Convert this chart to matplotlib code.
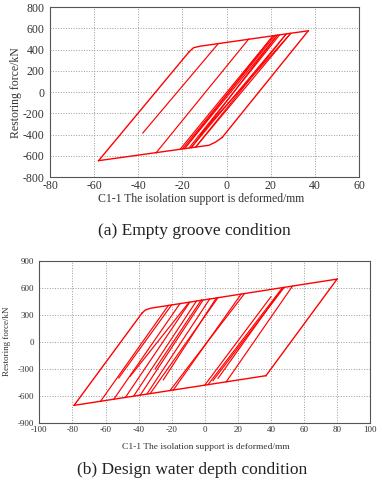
import matplotlib.pyplot as plt

plt.rcParams['font.family'] = ['Liberation Serif', 'DejaVu Serif']
plt.rcParams['axes.unicode_minus'] = False

# (a) empty groove: envelope corners and elastic branches (x in mm, y in kN)
a_upper_x = [-17, -15, -12, 37]
a_upper_y = [380, 418, 433, 578]
a_lower_x = [-58, -8, -5, -2]
a_lower_y = [-645, -500, -470, -426]
a_outer_x = [-58, -17]
a_outer_y = [-645, 380]
a_right_x = [37, -2]
a_right_y = [578, -426]
a_branch_x0 = [-38, 10, -21, 21, -19, 23, -16, 27, -14, 29, -20, -17]
a_branch_y0 = [-385, 500, -536, 530, -530, 537, -521, 548, -516, 553, -533, -524]
a_branch_x1 = [-4, -32, 21, -19, 23, -16, 27, -14, 29, -12, 22, 24]
a_branch_y1 = [452, -572, 530, -530, 537, -521, 548, -516, 553, -400, 534, 540]

# (b) design water depth
b_upper_x = [-38, -36, -33, 80]
b_upper_y = [320, 355, 375, 700]
b_lower_x = [-79, 37]
b_lower_y = [-705, -375]
b_outer_x = [-79, -38]
b_outer_y = [-705, 320]
b_right_x = [80, 37]
b_right_y = [700, -375]
b_branch_x0 = [-52, -63, -55, -48, -43, -39, -35, -33, -19, -21, 0, 2, 5, 8, 13, -45, -30, -25]
b_branch_y0 = [-400, -660, -637, -617, -602, -591, -580, -574, -534, -540, -480, -474, -430, -405, -443, -380, -300, -420]
b_branch_x1 = [-20, -22, -15, -9, -5, -1, 3, 8, 22, 24, 40, 47, 48, 47, 53, -10, -2, 7]
b_branch_y1 = [413, 407, 427, 444, 456, 467, 479, 493, 533, 538, 503, 604, 607, 600, 621, 430, 470, 490]

fig = plt.figure(figsize=(3.82, 4.8), dpi=100)
red = '#ff0000'


def style(ax, xt, yt, fs):
    ax.set_xticks(xt)
    ax.set_yticks(yt)
    ax.set_xlim(xt[0], xt[-1])
    ax.set_ylim(yt[0], yt[-1])
    ax.grid(True, linestyle=':', color='#999999', linewidth=0.7)
    ax.tick_params(length=0, labelsize=fs, colors='#333333', pad=2)
    ax.tick_params(axis='y', pad=4)
    for s in ax.spines.values():
        s.set_color('#555555')
        s.set_linewidth(0.8)


ax1 = fig.add_axes([0.131, 0.631, 0.809, 0.354])
ax1.plot(a_outer_x, a_outer_y, color=red, lw=1.0)
ax1.plot(a_upper_x, a_upper_y, color=red, lw=1.0)
ax1.plot(a_lower_x, a_lower_y, color=red, lw=1.0)
ax1.plot(a_right_x, a_right_y, color=red, lw=1.0)
for i in range(len(a_branch_x0)):
    ax1.plot([a_branch_x0[i], a_branch_x1[i]], [a_branch_y0[i], a_branch_y1[i]], color=red, lw=0.85)
style(ax1, list(range(-80, 61, 20)), list(range(-800, 801, 200)), 8.5)

ax2 = fig.add_axes([0.103, 0.119, 0.866, 0.337])
ax2.plot(b_outer_x, b_outer_y, color=red, lw=1.0)
ax2.plot(b_upper_x, b_upper_y, color=red, lw=1.0)
ax2.plot(b_lower_x, b_lower_y, color=red, lw=1.0)
ax2.plot(b_right_x, b_right_y, color=red, lw=1.0)
for i in range(len(b_branch_x0)):
    ax2.plot([b_branch_x0[i], b_branch_x1[i]], [b_branch_y0[i], b_branch_y1[i]], color=red, lw=0.85)
style(ax2, list(range(-100, 101, 20)), list(range(-900, 901, 300)), 6.5)

fig.text(0.042, 0.808, 'Restoring force/kN', rotation=90, ha='center', va='center', fontsize=8.5, color='#333333')
fig.text(0.526, 0.586, 'C1-1 The isolation support is deformed/mm', ha='center', va='center', fontsize=8.5, color='#333333')
fig.text(0.508, 0.519, '(a) Empty groove condition', ha='center', va='center', fontsize=12.5, color='#222222')

fig.text(0.019, 0.29, 'Restoring force/kN', rotation=90, ha='center', va='center', fontsize=6.5, color='#333333')
fig.text(0.539, 0.069, 'C1-1 The isolation support is deformed/mm', ha='center', va='center', fontsize=6.8, color='#333333')
fig.text(0.503, 0.021, '(b) Design water depth condition', ha='center', va='center', fontsize=12.5, color='#222222')

fig.savefig('out.png', dpi=100)
